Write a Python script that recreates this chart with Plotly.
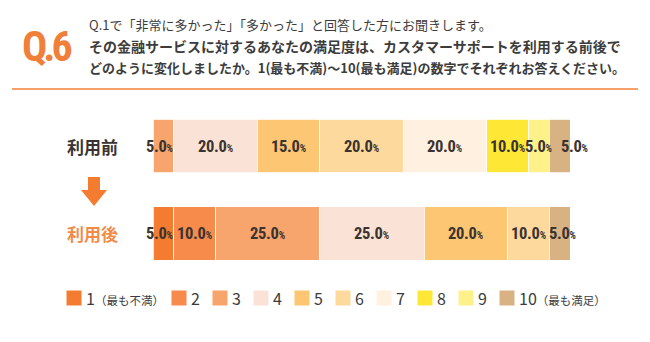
import plotly.graph_objects as go

# ---- data ----
rows = ["利用前", "利用後"]
levels = ["1", "2", "3", "4", "5", "6", "7", "8", "9", "10"]
legend_notes = ["（最も不満）", "", "", "", "", "", "", "", "", "（最も満足）"]
before = [0, 0, 5, 20, 15, 20, 20, 10, 5, 5]
after = [5, 10, 25, 25, 20, 10, 0, 0, 0, 5]
colors = ["#F47C30", "#F68B4B", "#F8A46D", "#FBE2D6", "#FDC673",
          "#FED99E", "#FFF0DF", "#FFE835", "#FFF18A", "#D8B283"]

title_q = "Q.6"
title_lines = [
    "Q.1で「非常に多かった」「多かった」と回答した方にお聞きします。",
    "その金融サービスに対するあなたの満足度は、カスタマーサポートを利用する前後で",
    "どのように変化しましたか。1(最も不満)〜10(最も満足)の数字でそれぞれお答えください。",
]

W, H = 650, 342
JP = "Noto Sans CJK JP, Noto Sans, sans-serif"
NARROW = "Roboto Condensed, DejaVu Sans Condensed, Liberation Sans Narrow, Roboto, sans-serif"
ORANGE = "#F47C30"
DARK = "#3A3330"


def px(x):
    return x / W


def py(y):
    return 1 - y / H


fig = go.Figure()
for i, lv in enumerate(levels):
    fig.add_trace(go.Bar(
        x=[before[i], after[i]], y=rows, orientation="h",
        name=lv, marker=dict(color=colors[i], line=dict(color="white", width=0.8)),
        showlegend=False, hoverinfo="x+name",
    ))

annotations = []
shapes = []

# percent labels from cumulative sums
for r, vals in zip(rows, [before, after]):
    cum = 0
    nz = [k for k, v in enumerate(vals) if v > 0]
    for k, v in enumerate(vals):
        if v <= 0:
            continue
        mid = cum + v / 2
        cum += v
        shift = 0
        if v <= 5 and k == nz[-1] and len(nz) > 1 and vals[nz[-2]] <= 5:
            shift = 15
        if v <= 5 and k == nz[0]:
            shift = -4
        if v <= 5 and k == nz[-1] and shift == 0:
            shift = 3
        annotations.append(dict(
            x=mid, y=r, xref="x", yref="y", showarrow=False, xshift=shift,
            xanchor="center",
            text=f"<span style='font-stretch:condensed;letter-spacing:-0.3px'>{v:.1f}</span>"
                 f"<span style='font-size:10px;font-stretch:condensed'>%</span>",
            font=dict(family=NARROW, size=16.5, color=DARK, weight="bold"),
        ))

# row labels
for r, c in zip(rows, [DARK, "#F28A48"]):
    annotations.append(dict(
        x=px(92.5), y=r, xref="paper", yref="y", showarrow=False,
        xanchor="center", yanchor="middle",
        text=r, font=dict(family=JP, size=17, color=c, weight="bold"),
    ))

# header
annotations.append(dict(
    x=px(20), y=py(46), xref="paper", yref="paper", xanchor="left", yanchor="middle",
    showarrow=False,
    text=f"<span style='font-stretch:condensed;letter-spacing:-4px'>{title_q}</span>",
    font=dict(family=NARROW, size=42, color="#F07F3A", weight="bold"),
))
for line, yy, sz, wt in zip(title_lines, [25, 46, 67], [13, 14, 13], ["normal", "bold", "bold"]):
    annotations.append(dict(
        x=px(87), y=py(yy), xref="paper", yref="paper", xanchor="left", yanchor="middle",
        showarrow=False, text=line,
        font=dict(family=JP, size=sz, color="#3C3C3C", weight=wt),
    ))
shapes.append(dict(type="line", xref="paper", yref="paper",
                   x0=px(12), x1=px(638), y0=py(89), y1=py(89),
                   line=dict(color="#F6A16A", width=2)))

# arrow
pts = [(88, 177), (100, 177), (100, 190), (107, 190), (94, 206), (81, 190), (88, 190)]
path = "M" + " L".join(f"{px(a):.5f},{py(b):.5f}" for a, b in pts) + " Z"
shapes.append(dict(type="path", xref="paper", yref="paper", path=path,
                   fillcolor=ORANGE, line=dict(width=0)))

# legend
lx = 66.5
ly = 298
for i, lv in enumerate(levels):
    shapes.append(dict(type="rect", xref="paper", yref="paper",
                       x0=px(lx), x1=px(lx + 15), y0=py(ly + 7.5), y1=py(ly - 7.5),
                       fillcolor=colors[i], line=dict(width=0)))
    txt = lv
    if legend_notes[i]:
        txt += f"<span style='font-size:11.5px'>{legend_notes[i]}</span>"
    annotations.append(dict(
        x=px(lx + 17), y=py(ly), xref="paper", yref="paper", xanchor="left", yanchor="middle",
        showarrow=False, text=txt,
        font=dict(family=JP, size=16, color="#3C3C3C"),
    ))
    lx += 105 if legend_notes[i] else 41

fig.update_layout(
    width=W, height=H, margin=dict(l=0, r=0, t=0, b=0),
    paper_bgcolor="white", plot_bgcolor="white",
    barmode="stack", bargap=0.383,
    xaxis=dict(domain=[px(153), px(570)], range=[0, 100], visible=False, fixedrange=True),
    yaxis=dict(domain=[py(277.25), py(102.25)], type="category",
               categoryarray=["利用後", "利用前"], range=[-0.5, 1.5],
               visible=False, fixedrange=True),
    annotations=annotations, shapes=shapes, showlegend=False,
)

fig.write_html("out.html")
